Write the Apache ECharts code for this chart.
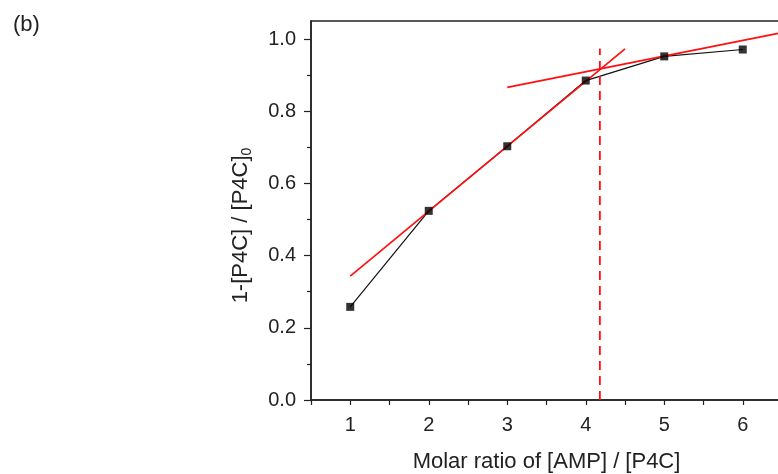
<!DOCTYPE html>
<html><head><meta charset="utf-8">
<script src="https://cdn.jsdelivr.net/npm/echarts@6/dist/echarts.min.js"></script>
<style>html,body{margin:0;padding:0;background:#fff;overflow:hidden}#c{width:800px;height:474px}</style>
</head><body><div id="c"></div>
<script>
// Data
const xVals = [1, 2, 3, 4, 5, 6];
const yVals = [0.258, 0.524, 0.703, 0.885, 0.952, 0.971];
const fit1X = [1, 4.5];
const fit1Y = [0.343, 0.973];
const fit2X = [3, 6.5];
const fit2Y = [0.866, 1.018];
const crossX = 4.18;
const crossY = [0, 0.974];
const yMajor = [0, 0.2, 0.4, 0.6, 0.8, 1.0];
const yMinor = [0.1, 0.3, 0.5, 0.7, 0.9];

const pts = xVals.map((x, i) => [x, yVals[i]]);
const f1 = fit1X.map((x, i) => [x, fit1Y[i]]);
const f2 = fit2X.map((x, i) => [x, fit2Y[i]]);
const vl = crossY.map(y => [crossX, y]);

const font = 'Liberation Sans, Arial, sans-serif';
const axCol = '#222';
const chart = echarts.init(document.getElementById('c'));
chart.setOption({
  animation: false,
  backgroundColor: '#fff',
  graphic: [{type: 'text', left: 13, top: 14, style: {text: '(b)', font: '22px ' + font, fill: '#222'}}],
  grid: {left: 311, top: 21, right: 18, bottom: 74, show: true, borderColor: axCol, borderWidth: 1.5,
    containLabel: false, outerBoundsMode: 'none'},
  xAxis: {
    type: 'value', min: 0.5, max: 6.5, interval: 0.5,
    name: 'Molar ratio of [AMP] / [P4C]', nameLocation: 'middle', nameGap: 51,
    nameTextStyle: {fontFamily: font, fontSize: 22, color: axCol},
    axisLine: {lineStyle: {color: axCol, width: 1.5}},
    axisTick: {length: 5, lineStyle: {color: axCol, width: 1.2}},
    axisLabel: {fontFamily: font, fontSize: 20, color: axCol, margin: 15,
      formatter: v => (Math.abs(v - Math.round(v)) < 1e-6 ? String(Math.round(v)) : '')},
    splitLine: {show: false}
  },
  yAxis: [{
    type: 'value', min: 0, max: 1.05,
    name: '{a|1-[P4C] / [P4C]}{s|0}', nameLocation: 'middle', nameGap: 57, nameRotate: 90,
    nameTextStyle: {padding: [0, 30, 0, 0], rich: {
      a: {fontFamily: font, fontSize: 22, color: axCol},
      s: {fontFamily: font, fontSize: 14, color: axCol, padding: [12, 0, 0, 0]}
    }},
    axisLine: {lineStyle: {color: axCol, width: 1.5}},
    axisTick: {customValues: yMajor, length: 7, lineStyle: {color: axCol, width: 1.2}},
    axisLabel: {customValues: yMajor, fontFamily: font, fontSize: 20, color: axCol, margin: 15,
      formatter: v => v.toFixed(1)},
    splitLine: {show: false}
  }, {
    type: 'value', min: 0, max: 1.05, position: 'left',
    axisLine: {show: false},
    axisTick: {show: true, customValues: yMinor, length: 4, lineStyle: {color: axCol, width: 1.2}},
    axisLabel: {show: false},
    splitLine: {show: false}
  }],
  series: [
    {type: 'line', data: pts, showSymbol: false, symbol: 'none', lineStyle: {color: '#111', width: 1.2}, z: 2},
    {type: 'line', data: f1, symbol: 'none', lineStyle: {color: '#ff1010', width: 1.7}, z: 3},
    {type: 'line', data: f2, symbol: 'none', lineStyle: {color: '#ff1010', width: 1.7}, z: 3},
    {type: 'line', data: vl, symbol: 'none', lineStyle: {color: '#ff1010', width: 1.8, type: [9, 6]}, z: 3},
    {type: 'scatter', data: pts, symbol: 'rect', symbolSize: 8, itemStyle: {color: '#000'}, z: 4}
  ]
});
</script></body></html>
